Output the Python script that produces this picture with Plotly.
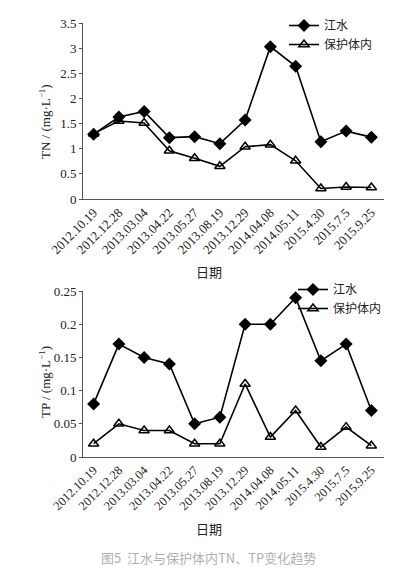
import plotly.graph_objects as go

dates = ["2012.10.19", "2012.12.28", "2013.03.04", "2013.04.22", "2013.05.27", "2013.08.19",
         "2013.12.29", "2014.04.08", "2014.05.11", "2015.4.30", "2015.7.5", "2015.9.25"]
tn_river = [1.29, 1.63, 1.74, 1.22, 1.24, 1.10, 1.57, 3.03, 2.64, 1.14, 1.35, 1.23]
tn_reserve = [1.30, 1.55, 1.51, 0.96, 0.81, 0.65, 1.04, 1.08, 0.76, 0.21, 0.24, 0.23]
tp_river = [0.08, 0.17, 0.15, 0.14, 0.05, 0.06, 0.20, 0.20, 0.24, 0.145, 0.17, 0.07]
tp_reserve = [0.02, 0.05, 0.04, 0.04, 0.02, 0.02, 0.11, 0.03, 0.07, 0.015, 0.045, 0.017]
tn_ticks = [0, 0.5, 1, 1.5, 2, 2.5, 3, 3.5]
tn_ticktext = ["0", "0.5", "1", "1.5", "2", "2.5", "3", "3.5"]
tp_ticks = [0, 0.05, 0.1, 0.15, 0.2, 0.25]
tp_ticktext = ["0", "0.05", "0.1", "0.15", "0.2", "0.25"]

W, H = 399, 576
idx = list(range(len(dates)))
serif = "Liberation Serif, Times New Roman, serif"
cjk = "Noto Sans CJK SC"

fig = go.Figure()

def add_pair(river, reserve, xa, ya, leg):
    fig.add_trace(go.Scatter(x=idx, y=river, mode="lines+markers", name="江水",
                             xaxis=xa, yaxis=ya, legend=leg,
                             line=dict(color="black", width=1.6),
                             marker=dict(symbol="diamond", size=10, color="black")))
    fig.add_trace(go.Scatter(x=idx, y=reserve, mode="lines+markers", name="保护体内",
                             xaxis=xa, yaxis=ya, legend=leg,
                             line=dict(color="black", width=1.6),
                             marker=dict(symbol="triangle-up-open", size=9, color="black",
                                         line=dict(width=1.5))))

add_pair(tn_river, tn_reserve, "x", "y", "legend")
add_pair(tp_river, tp_reserve, "x2", "y2", "legend2")

xdom = [75 / W, 376 / W]
xaxis_common = dict(domain=xdom, range=[-0.42, 11.5], tickmode="array", tickvals=idx,
                    ticktext=dates, tickangle=-45, showline=True, linecolor="#555",
                    linewidth=1, showgrid=False, zeroline=False, ticks="", automargin=False)
yaxis_common = dict(showline=True, linecolor="#555", linewidth=1, showgrid=False,
                    zeroline=False, ticks="outside", ticklen=3, tickcolor="#555",
                    automargin=False, tickfont=dict(family=serif, size=13, color="#222"))

fig.update_layout(
    width=W, height=H,
    margin=dict(l=0, r=0, t=0, b=0),
    paper_bgcolor="white", plot_bgcolor="white",
    showlegend=True,
    xaxis=dict(**xaxis_common, anchor="y", tickfont=dict(family=serif, size=13, color="#222")),
    yaxis=dict(**yaxis_common, domain=[1 - 191 / H, 1 - 15 / H], range=[0, 3.5],
               tickmode="array", tickvals=tn_ticks, ticktext=tn_ticktext, anchor="x"),
    xaxis2=dict(**xaxis_common, anchor="y2", tickfont=dict(family=serif, size=12.5, color="#222")),
    yaxis2=dict(**yaxis_common, domain=[1 - 449 / H, 1 - 283 / H], range=[0, 0.25],
                tickmode="array", tickvals=tp_ticks, ticktext=tp_ticktext, anchor="x2"),
    legend=dict(x=276 / W, y=1 - 3 / H, xanchor="left", yanchor="top",
                bgcolor="rgba(0,0,0,0)", font=dict(family=cjk, size=12, color="#222"),
                tracegroupgap=0, itemwidth=30),
    legend2=dict(x=285 / W, y=1 - 267 / H, xanchor="left", yanchor="top",
                 bgcolor="rgba(0,0,0,0)", font=dict(family=cjk, size=12, color="#222"),
                 tracegroupgap=0, itemwidth=30),
    annotations=[
        dict(text="TN / (mg·L<sup>−1</sup>)", x=37 / W, y=1 - 114 / H, xref="paper", yref="paper",
             xanchor="center", yanchor="middle",
             textangle=-90, showarrow=False, font=dict(family=serif, size=13, color="#222")),
        dict(text="TP / (mg·L<sup>−1</sup>)", x=37 / W, y=1 - 374 / H, xref="paper", yref="paper",
             xanchor="center", yanchor="middle",
             textangle=-90, showarrow=False, font=dict(family=serif, size=13, color="#222")),
        dict(text="日期", x=201 / W, y=1 - 264 / H, xref="paper", yref="paper",
             xanchor="center", yanchor="middle",
             showarrow=False, font=dict(family=cjk, size=13, color="#222")),
        dict(text="日期", x=201 / W, y=1 - 520 / H, xref="paper", yref="paper",
             xanchor="center", yanchor="middle",
             showarrow=False, font=dict(family=cjk, size=13, color="#222")),
        dict(text="图5  江水与保护体内TN、TP变化趋势", x=200 / W, y=1 - 549 / H,
             xref="paper", yref="paper", xanchor="center", yanchor="middle", showarrow=False,
             font=dict(family="Noto Sans CJK SC", size=13, color="#b0b0b0")),
    ],
)

fig.write_html("out.html")
